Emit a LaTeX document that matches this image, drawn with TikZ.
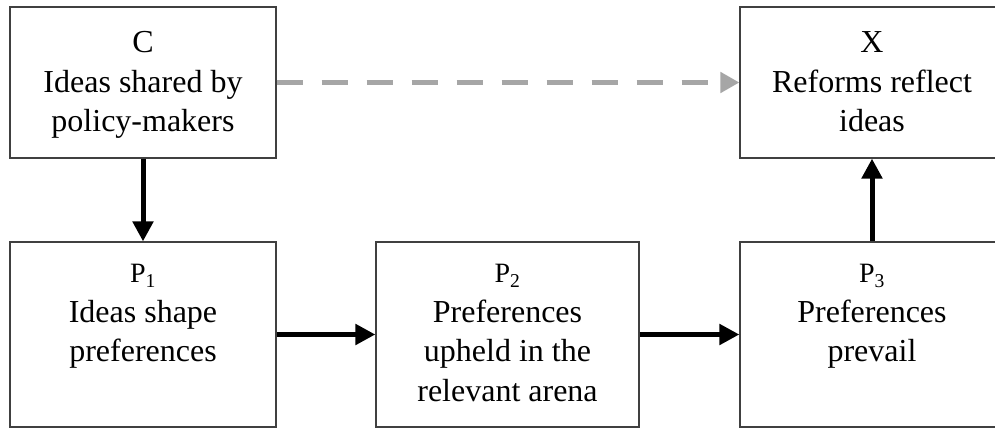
\documentclass[tikz,border=0pt]{standalone}
\usepackage{fontspec}
\setmainfont{Liberation Serif}
\usetikzlibrary{arrows.meta}
\definecolor{boxline}{HTML}{404040}
\definecolor{dashgray}{HTML}{A6A6A6}
\tikzset{
  box/.style={draw=boxline, line width=1.2pt, rectangle, inner sep=0pt},
  boxtext/.style={anchor=north, inner sep=0pt, align=center, font=\fontsize{32}{39.5}\selectfont},
  flow/.style={line width=5pt, -{Triangle[length=20pt,width=20pt]}},
  idealink/.style={line width=5pt, draw=dashgray, dash pattern=on 26pt off 19pt, -{Triangle[length=19pt,width=20pt,fill=dashgray]}}
}
\newcommand{\plabel}[1]{{\fontsize{28}{39.5}\selectfont P\textsubscript{#1}}}
\begin{document}
\begin{tikzpicture}[x=1pt,y=-1pt]
\useasboundingbox (0,0) rectangle (995,428);
\clip (0,0) rectangle (995,428);
\fill[white] (0,0) rectangle (995,428);
% boxes
\node[box, minimum width=266pt, minimum height=151pt] (C) at (143,82.5) {};
\node[box, minimum width=264pt, minimum height=151pt] (X) at (872,82.5) {};
\node[box, minimum width=266pt, minimum height=185pt] (P1) at (143,334.5) {};
\node[box, minimum width=263pt, minimum height=185pt] (P2) at (507.5,334.5) {};
\node[box, minimum width=264pt, minimum height=185pt] (P3) at (872,334.5) {};
% texts
\node[boxtext] (Ct) at ([yshift=-25pt]C.north) {C\\Ideas shared by\\policy-makers};
\node[boxtext] (Xt) at ([yshift=-25pt]X.north) {X\\Reforms reflect\\ideas};
\node[boxtext] (P1t) at ([yshift=-23pt]P1.north) {\plabel{1}\\Ideas shape\\preferences};
\node[boxtext] (P2t) at ([yshift=-23pt]P2.north) {\plabel{2}\\Preferences\\upheld in the\\relevant arena};
\node[boxtext] (P3t) at ([yshift=-23pt]P3.north) {\plabel{3}\\Preferences\\prevail};
% connectors
\draw[idealink] (C.east) -- (X.west);
\draw[flow] (C.south) -- (P1.north);
\draw[flow] (P1.east) -- (P2.west);
\draw[flow] (P2.east) -- (P3.west);
\draw[flow] (P3.north) -- (X.south);
\end{tikzpicture}
\end{document}
